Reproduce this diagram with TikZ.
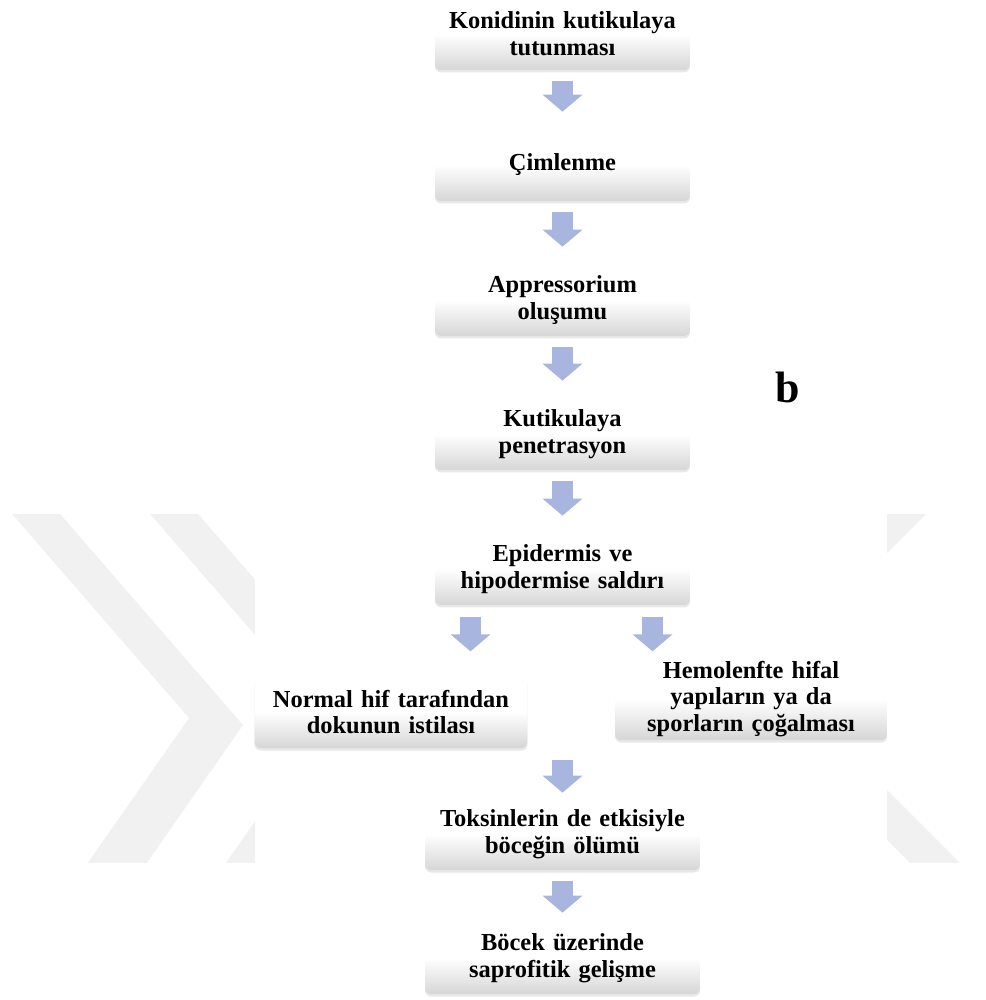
\documentclass[tikz,border=0pt]{standalone}
\usepackage{fontspec}
\setmainfont{Liberation Serif}
\usepackage{tikz}
\usetikzlibrary{calc}
\usepackage{xcolor}
\usetikzlibrary{arrows.meta, shadows}

\definecolor{boxgray}{RGB}{214,214,214}
\definecolor{arrowblue}{RGB}{168,181,222}
\definecolor{markgray}{RGB}{241,241,241}

\begin{document}
\begin{tikzpicture}[x=0.02cm, y=-0.02cm,
  stage/.style={rectangle, rounded corners=0.12cm, minimum height=1.44cm, inner xsep=0.1cm, inner ysep=0.06cm,
    align=center, text width=4.9cm, top color=white, bottom color=boxgray, middle color=white,
    drop shadow={shadow xshift=0pt, shadow yshift=-0.05cm, opacity=0.18},
    font=\fontsize{13.9}{15.3}\selectfont\bfseries},
  flow/.style={draw=arrowblue, line width=0.42cm, -{Triangle[width=0.78cm, length=0.34cm]}},
  gap/.style={shorten <=0.22cm, shorten >=0.34cm}]
\useasboundingbox (0,0) rectangle (985,1000);

% faint watermark behind the chart
\begin{scope}
\clip (0,514) rectangle (255,862);
\fill[markgray] (0,500) -- (48,500) -- (243,725) -- (135,880) -- (76,880) -- (189,718) -- cycle;
\fill[markgray] (138,500) -- (186,500) -- (381,725) -- (273,880) -- (214,880) -- (327,718) -- cycle;
\end{scope}
\begin{scope}
\clip (887,514) rectangle (985,862);
\fill[markgray] (880,500) -- (940,500) -- (880,560) -- cycle;
\fill[markgray] (880,783) -- (1000,903) -- (1000,953) -- (880,833) -- cycle;
\end{scope}

\node[stage] (1) at (562.5,34) {Konidinin kutikulaya\\tutunması};
\node[stage] (2) at (562.5,165) {Çimlenme};
\node[stage] (3) at (562.5,300) {Appressorium\\oluşumu};
\node[stage] (4) at (562.5,434) {Kutikulaya\\penetrasyon};
\node[stage] (5) at (562.5,569) {Epidermis ve\\hipodermise saldırı};
\node[stage, text width=5.26cm] (6) at (391,712) {Normal hif tarafından\\dokunun istilası};
\node[stage, text width=5.24cm] (7) at (751,699) {Hemolenfte hifal\\yapıların ya da\\sporların çoğalması};
\node[stage, text width=5.3cm] (8) at (562.5,834) {Toksinlerin de etkisiyle\\böceğin ölümü};
\node[stage, text width=5.3cm] (9) at (562.5,958) {Böcek üzerinde\\saprofitik gelişme};
\node[font=\fontsize{25}{30}\selectfont\bfseries] (b) at (788,387) {b};

% arrows between the stages
\draw[flow, gap] (1) -- (2);
\draw[flow, gap] (2) -- (3);
\draw[flow, gap] (3) -- (4);
\draw[flow, gap] (4) -- (5);
\draw[flow] ($(5.south)+(-92,12)$) -- ($(5.south)+(-92,46)$);
\draw[flow] ($(5.south)+(90,12)$) -- ($(5.south)+(90,46)$);
\draw[flow] ($(8.north)+(0,-38)$) -- ($(8.north)+(0,-5)$);
\draw[flow, gap, shorten >=0.18cm] (8) -- (9);

\end{tikzpicture}
\end{document}
